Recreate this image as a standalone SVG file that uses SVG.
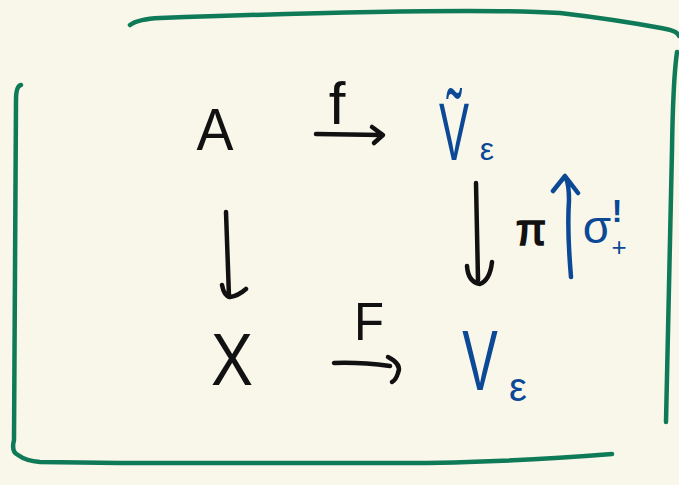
<svg xmlns="http://www.w3.org/2000/svg" width="679" height="485" viewBox="0 0 679 485">
<style>
.bg{fill:#f9f6ea}
.frame{fill:none;stroke:#0e7a57;stroke-width:4.5;stroke-linecap:round;stroke-linejoin:round}
.k{fill:#111}
.b{fill:#0b4896}
.t{font-family:"Liberation Sans","DejaVu Sans",sans-serif}
.ek{fill:none;stroke:#111;stroke-width:4.5;stroke-linecap:round;stroke-linejoin:round}
.eb{fill:none;stroke:#0b4896;stroke-width:4.5;stroke-linecap:round;stroke-linejoin:round}
</style>
<rect class="bg" x="0" y="0" width="679" height="485"/>
<g id="frame">
<path class="frame" d="M130,25 Q138,19 160,18 C300,13 480,8 560,13 C620,20 650,26 666,29 Q677,31 679,36"/>
<path class="frame" d="M677,52 Q673,80 672,150 L666,422"/>
<path class="frame" d="M21,85 Q16,86 16,100 L14,440 Q11,452 18,455 Q26,461 40,462 L120,463 L400,463 Q500,463 612,454"/>
</g>
<g id="A"><text class="t k" x="215" y="150" font-size="60" text-anchor="middle" textLength="37" lengthAdjust="spacingAndGlyphs">A</text></g>
<g id="X"><text class="t k" x="232" y="385" font-size="74" text-anchor="middle" textLength="42" lengthAdjust="spacingAndGlyphs">X</text></g>
<g id="Vtilde">
<text class="t b" transform="translate(454,160) scale(0.55,1)" x="0" y="0" font-size="82" text-anchor="middle">Ṽ</text>
<text class="t b" x="487" y="160" font-size="32" text-anchor="middle">ε</text>
</g>
<g id="V">
<text class="t b" transform="translate(480,390) scale(0.62,1)" x="0" y="0" font-size="86" text-anchor="middle">V</text>
<text class="t b" x="518" y="401" font-size="40" text-anchor="middle">ε</text>
</g>
<g id="connectors">
<g id="e-f">
<path class="ek" d="M316,134 L382,135 M372,127 L383,135 L374,143"/>
<text class="t k" x="337" y="124" font-size="60" text-anchor="middle">f</text>
</g>
<g id="e-F">
<path class="ek" d="M334,363 Q360,362 390,366 M388,357 Q402,364 398,373 Q396,380 392,382"/>
<text class="t k" x="369" y="340" font-size="54" text-anchor="middle" textLength="30" lengthAdjust="spacingAndGlyphs">F</text>
</g>
<g id="e-AX">
<path class="ek" d="M226,212 L229,297 M222,285 Q224,296 230,297 Q238,296 246,289"/>
</g>
<g id="e-pi">
<path class="ek" d="M476,183 L478,280 M467,266 Q468,282 480,284 Q490,280 492,262"/>
<text class="t k" x="531" y="245" font-size="44" text-anchor="middle" stroke="#111" stroke-width="1.6">π</text>
</g>
<g id="e-sigma">
<path class="eb" d="M571,277 Q567,230 569,200 Q569,185 566,178 M553,191 L565,176 L578,193"/>
<text class="t b" x="597" y="243" font-size="46" text-anchor="middle">σ</text>
<text class="t b" x="617" y="222" font-size="32" font-weight="bold" text-anchor="middle">!</text>
<text class="t b" x="619" y="256" font-size="26" text-anchor="middle">+</text>
</g>
</g>
</svg>
